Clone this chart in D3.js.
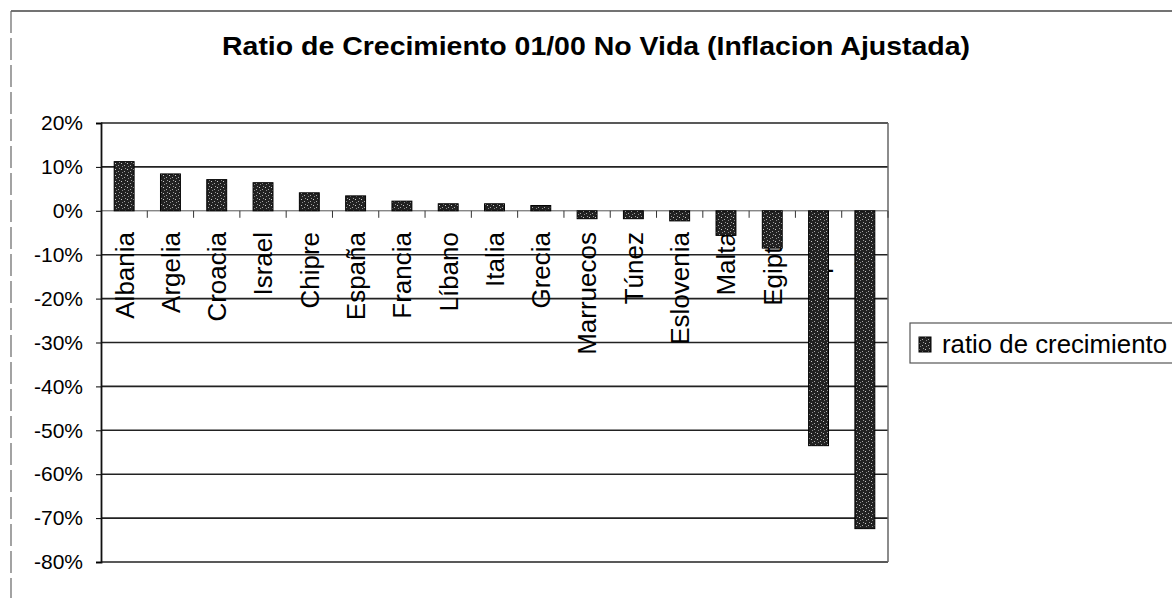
<!DOCTYPE html>
<html>
<head>
<meta charset="utf-8">
<script src="https://cdn.jsdelivr.net/npm/d3@7"></script>
<style>
  body { margin: 0; background: #fff; }
  svg { display: block; font-family: Arial, "Liberation Sans", sans-serif; }
</style>
</head>
<body>
<div id="chart"></div>
<script>
// data (last two labels are hidden behind their bars)
var paises = ["Albania", "Argelia", "Croacia", "Israel", "Chipre", "España", "Francia", "Líbano",
    "Italia", "Grecia", "Marruecos", "Túnez", "Eslovenia", "Malta", "Egipto", "Turquía", "Serbia"];
var ratios = [0.112, 0.084, 0.071, 0.064, 0.041, 0.034, 0.022, 0.016,
    0.016, 0.012, -0.018, -0.018, -0.023, -0.056, -0.085, -0.535, -0.724];
var yTicks = [0.2, 0.1, 0, -0.1, -0.2, -0.3, -0.4, -0.5, -0.6, -0.7, -0.8];
var titulo = "Ratio de Crecimiento 01/00 No Vida (Inflacion Ajustada)";
var leyenda = "ratio de crecimiento";

var svgWidth = 1172;
var svgHeight = 598;
var plot = { left: 101, right: 888, top: 123, bottom: 562 };

var svg = d3.select("#chart").append("svg")
    .attr("width", svgWidth)
    .attr("height", svgHeight);

// bar texture
var defs = svg.append("defs");
var pat = defs.append("pattern")
    .attr("id", "speckle")
    .attr("patternUnits", "userSpaceOnUse")
    .attr("width", 6)
    .attr("height", 6);
pat.append("rect").attr("width", 6).attr("height", 6).attr("fill", "#222");
pat.append("rect").attr("x", 1).attr("y", 1).attr("width", 1).attr("height", 1).attr("fill", "#ccc");
pat.append("rect").attr("x", 4).attr("y", 3).attr("width", 1).attr("height", 1).attr("fill", "#aaa");
pat.append("rect").attr("x", 2).attr("y", 4).attr("width", 1).attr("height", 1).attr("fill", "#888");
pat.append("rect").attr("x", 5).attr("y", 0).attr("width", 1).attr("height", 1).attr("fill", "#999");

// outer frame (scanned border)
svg.append("line")
    .attr("x1", 11).attr("x2", svgWidth).attr("y1", 11).attr("y2", 11)
    .attr("stroke", "#444").attr("stroke-width", 1.5);
svg.append("line")
    .attr("x1", 11).attr("x2", 11).attr("y1", 11).attr("y2", svgHeight)
    .attr("stroke", "#666").attr("stroke-width", 1.2)
    .attr("stroke-dasharray", "22,5");

// title
svg.append("text")
    .attr("x", 222)
    .attr("y", 55)
    .attr("font-size", 25)
    .attr("font-weight", "bold")
    .attr("textLength", 748)
    .attr("lengthAdjust", "spacingAndGlyphs")
    .text(titulo);

// scales
var xScale = d3.scaleBand()
    .domain(paises)
    .range([plot.left, plot.right])
    .paddingInner(0.57)
    .paddingOuter(0.285);

var yScale = d3.scaleLinear()
    .domain([-0.8, 0.2])
    .range([plot.bottom, plot.top]);

// gridlines
svg.append("g").selectAll("line")
    .data(yTicks)
    .enter().append("line")
    .attr("x1", plot.left).attr("x2", plot.right)
    .attr("y1", d => yScale(d)).attr("y2", d => yScale(d))
    .attr("stroke", d => d === 0 ? "#555" : "#222")
    .attr("stroke-width", d => d === 0 ? 1 : 1.6);

// plot border right
svg.append("line")
    .attr("x1", plot.right).attr("x2", plot.right)
    .attr("y1", plot.top).attr("y2", plot.bottom)
    .attr("stroke", "#666").attr("stroke-width", 1.5);

// y axis
var leftAxis = d3.axisLeft(yScale)
    .tickValues(yTicks)
    .tickSize(5)
    .tickPadding(13)
    .tickFormat(d => Math.round(d * 100) + "%");
var yAxis = svg.append("g")
    .attr("transform", `translate(${plot.left},0)`)
    .call(leftAxis);
yAxis.select(".domain").attr("stroke", "#111").attr("stroke-width", 1.8);
yAxis.selectAll("text")
    .attr("font-size", 21)
    .attr("font-family", "Arial, 'Liberation Sans', sans-serif")
    .attr("fill", "#000");

// category ticks on the zero line
var step = xScale.step();
svg.append("g").selectAll("line")
    .data(paises)
    .enter().append("line")
    .attr("x1", d => xScale(d) - xScale.paddingInner() * step / 2 + step)
    .attr("x2", d => xScale(d) - xScale.paddingInner() * step / 2 + step)
    .attr("y1", yScale(0)).attr("y2", yScale(0) + 7)
    .attr("stroke", "#333").attr("stroke-width", 1);

// category labels (drawn before bars, bars hide part of them)
svg.append("g").selectAll("text")
    .data(paises)
    .enter().append("text")
    .attr("transform", d => `translate(${xScale(d) + xScale.bandwidth() / 2},232) rotate(-90)`)
    .attr("text-anchor", "end")
    .attr("dy", "0.36em")
    .attr("font-size", 26)
    .text(d => d);

// bars
svg.append("g").selectAll("rect")
    .data(ratios)
    .enter().append("rect")
    .attr("x", (d, i) => xScale(paises[i]))
    .attr("y", d => yScale(Math.max(0, d)))
    .attr("width", xScale.bandwidth())
    .attr("height", d => Math.abs(yScale(d) - yScale(0)))
    .attr("fill", "url(#speckle)")
    .attr("stroke", "#000")
    .attr("stroke-width", 1);

// legend
var legend = svg.append("g");
legend.append("rect")
    .attr("x", 910).attr("y", 323)
    .attr("width", 300).attr("height", 40)
    .attr("fill", "#fff")
    .attr("stroke", "#555").attr("stroke-width", 1.2);
legend.append("rect")
    .attr("x", 919).attr("y", 337)
    .attr("width", 12).attr("height", 15)
    .attr("fill", "url(#speckle)")
    .attr("stroke", "#000");
legend.append("text")
    .attr("x", 942).attr("y", 353)
    .attr("font-size", 26)
    .attr("textLength", 225)
    .attr("lengthAdjust", "spacingAndGlyphs")
    .text(leyenda);
</script>
</body>
</html>
